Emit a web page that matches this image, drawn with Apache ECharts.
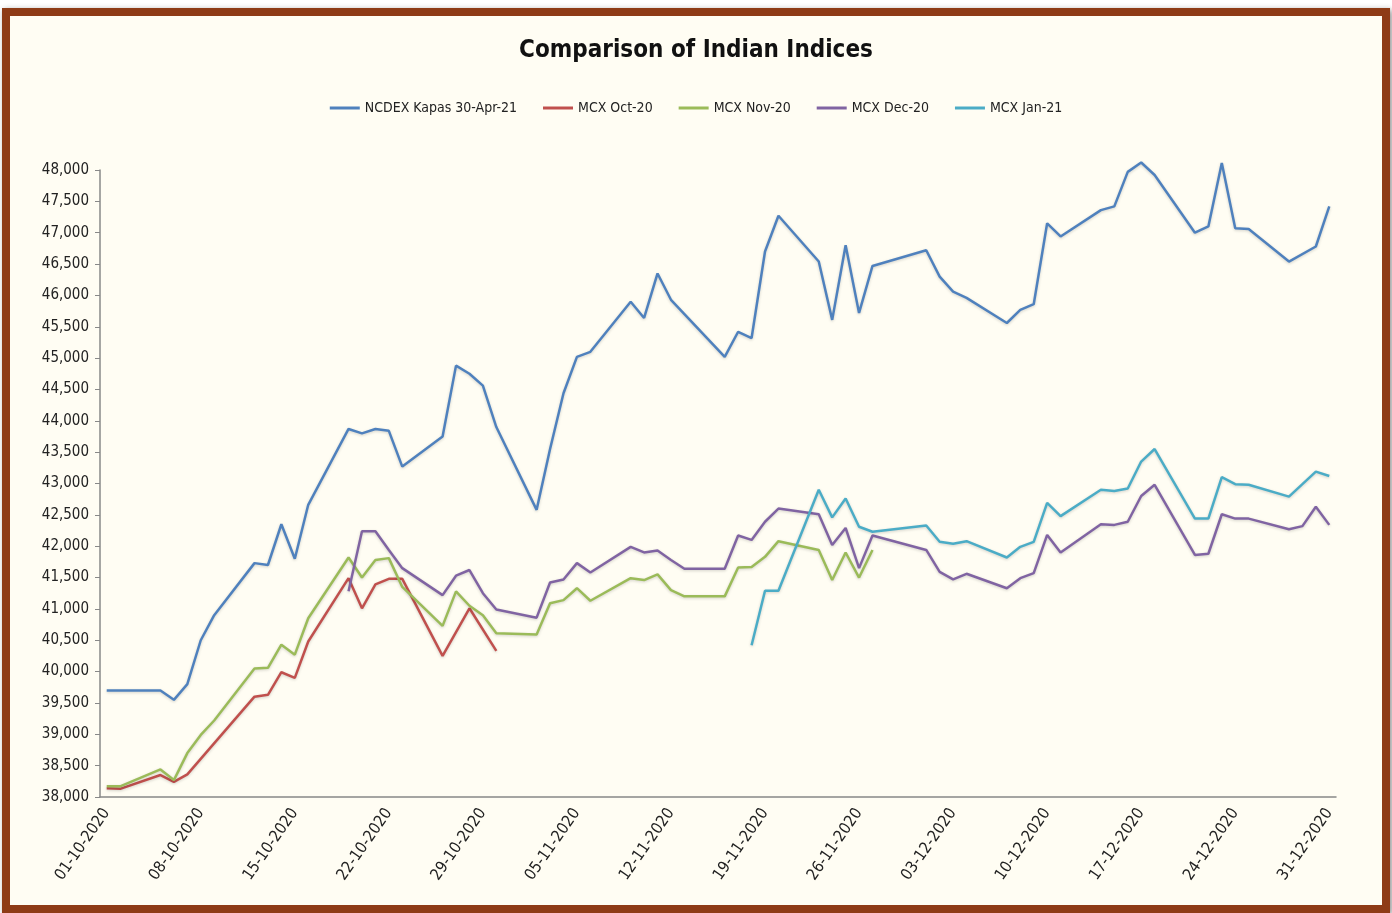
<!DOCTYPE html>
<html>
<head>
<meta charset="utf-8">
<script src="https://cdn.jsdelivr.net/npm/echarts@6/dist/echarts.min.js"></script>
<style>
  html, body { margin: 0; padding: 0; background: #ffffff; }
  .frame {
    position: absolute;
    left: 2px;
    top: 8px;
    width: 1372px;
    height: 889px;
    border: 8px solid #8e3b16;
    background: #fffdf3;
    box-shadow: 2px 2px 6px rgba(0, 0, 0, 0.45);
  }
  #chart { width: 100%; height: 100%; }
</style>
</head>
<body>
<div class="frame"><div id="chart"></div></div>
<script>
// x axis: every calendar day, label on every 7th
const days = [];
for (let d = new Date(2020, 9, 1); d <= new Date(2020, 11, 31); d.setDate(d.getDate() + 1)) {
  const dd = String(d.getDate()).padStart(2, "0");
  const mm = String(d.getMonth() + 1).padStart(2, "0");
  days.push(dd + "-" + mm + "-2020");
}

const seriesNames = ["NCDEX Kapas 30-Apr-21", "MCX Oct-20", "MCX Nov-20", "MCX Dec-20", "MCX Jan-21"];
const seriesColors = ["#4f81bd", "#c0504d", "#9bbb59", "#8064a2", "#4bacc6"];

// [dd-mm, value]
const ncdexKapas = [
  ["01-10", 39700], ["05-10", 39700], ["06-10", 39550], ["07-10", 39800], ["08-10", 40500], ["09-10", 40900],
  ["12-10", 41730], ["13-10", 41700], ["14-10", 42350], ["15-10", 41800], ["16-10", 42660],
  ["19-10", 43870], ["20-10", 43800], ["21-10", 43870], ["22-10", 43840], ["23-10", 43270],
  ["26-10", 43750], ["27-10", 44880], ["28-10", 44750], ["29-10", 44560], ["30-10", 43900],
  ["02-11", 42580], ["03-11", 43550], ["04-11", 44440], ["05-11", 45020], ["06-11", 45100],
  ["09-11", 45900], ["10-11", 45640], ["11-11", 46350], ["12-11", 45930],
  ["16-11", 45020], ["17-11", 45420], ["18-11", 45320], ["19-11", 46700], ["20-11", 47270],
  ["23-11", 46540], ["24-11", 45610], ["25-11", 46800], ["26-11", 45720], ["27-11", 46470],
  ["01-12", 46720], ["02-12", 46300], ["03-12", 46060], ["04-12", 45960],
  ["07-12", 45560], ["08-12", 45770], ["09-12", 45860], ["10-12", 47150], ["11-12", 46940],
  ["14-12", 47360], ["15-12", 47420], ["16-12", 47970], ["17-12", 48120], ["18-12", 47920],
  ["21-12", 47000], ["22-12", 47100], ["23-12", 48110], ["24-12", 47070], ["25-12", 47060],
  ["28-12", 46540], ["30-12", 46780], ["31-12", 47420]
];

const mcxOct20 = [
  ["01-10", 38140], ["02-10", 38130], ["05-10", 38350], ["06-10", 38240], ["07-10", 38360],
  ["12-10", 39600], ["13-10", 39630], ["14-10", 39990], ["15-10", 39900], ["16-10", 40480],
  ["19-10", 41490], ["20-10", 41010], ["21-10", 41390], ["22-10", 41480], ["23-10", 41480],
  ["26-10", 40250], ["28-10", 41010], ["30-10", 40330]
];

const mcxNov20 = [
  ["01-10", 38170], ["02-10", 38170], ["05-10", 38440], ["06-10", 38270], ["07-10", 38700], ["08-10", 38990], ["09-10", 39220],
  ["12-10", 40050], ["13-10", 40060], ["14-10", 40430], ["15-10", 40270], ["16-10", 40850],
  ["19-10", 41820], ["20-10", 41500], ["21-10", 41780], ["22-10", 41810], ["23-10", 41350],
  ["26-10", 40730], ["27-10", 41280], ["28-10", 41050], ["29-10", 40900], ["30-10", 40610],
  ["02-11", 40590], ["03-11", 41090], ["04-11", 41140], ["05-11", 41330], ["06-11", 41130],
  ["09-11", 41490], ["10-11", 41460], ["11-11", 41550], ["12-11", 41300], ["13-11", 41200],
  ["16-11", 41200], ["17-11", 41660], ["18-11", 41670], ["19-11", 41830], ["20-11", 42080],
  ["23-11", 41940], ["24-11", 41460], ["25-11", 41900], ["26-11", 41500], ["27-11", 41940]
];

const mcxDec20 = [
  ["19-10", 41280], ["20-10", 42240], ["21-10", 42240], ["22-10", 41940], ["23-10", 41650],
  ["26-10", 41220], ["27-10", 41530], ["28-10", 41620], ["29-10", 41250], ["30-10", 40990],
  ["02-11", 40860], ["03-11", 41420], ["04-11", 41470], ["05-11", 41730], ["06-11", 41580],
  ["09-11", 41990], ["10-11", 41900], ["11-11", 41930], ["12-11", 41780], ["13-11", 41640],
  ["16-11", 41640], ["17-11", 42170], ["18-11", 42100], ["19-11", 42390], ["20-11", 42600],
  ["23-11", 42510], ["24-11", 42020], ["25-11", 42290], ["26-11", 41650], ["27-11", 42170],
  ["01-12", 41940], ["02-12", 41590], ["03-12", 41470], ["04-12", 41560],
  ["07-12", 41330], ["08-12", 41490], ["09-12", 41570], ["10-12", 42180], ["11-12", 41900],
  ["14-12", 42350], ["15-12", 42340], ["16-12", 42390], ["17-12", 42800], ["18-12", 42980],
  ["21-12", 41860], ["22-12", 41880], ["23-12", 42510], ["24-12", 42440], ["25-12", 42440],
  ["28-12", 42270], ["29-12", 42320], ["30-12", 42630], ["31-12", 42340]
];

const mcxJan21 = [
  ["18-11", 40420], ["19-11", 41290], ["20-11", 41290],
  ["23-11", 42900], ["24-11", 42460], ["25-11", 42760], ["26-11", 42310], ["27-11", 42230],
  ["01-12", 42330], ["02-12", 42070], ["03-12", 42040], ["04-12", 42080],
  ["07-12", 41820], ["08-12", 41990], ["09-12", 42070], ["10-12", 42690], ["11-12", 42480],
  ["14-12", 42900], ["15-12", 42880], ["16-12", 42920], ["17-12", 43350], ["18-12", 43550],
  ["21-12", 42440], ["22-12", 42440], ["23-12", 43100], ["24-12", 42990], ["25-12", 42980],
  ["28-12", 42790], ["30-12", 43190], ["31-12", 43120]
];

const allSeries = [ncdexKapas, mcxOct20, mcxNov20, mcxDec20, mcxJan21];

const font = '"DejaVu Sans Condensed", "Liberation Sans Narrow", "Noto Sans", sans-serif';

const chart = echarts.init(document.getElementById("chart"));

const option = {
  animation: false,
  textStyle: { fontFamily: font },
  title: {
    text: "Comparison of Indian Indices",
    left: "center",
    top: 18,
    textStyle: { fontFamily: font, fontSize: 24, fontWeight: "bold", color: "#111" },
  },
  legend: {
    top: 80,
    left: "center",
    icon: "rect",
    itemWidth: 30,
    itemHeight: 3,
    itemGap: 26,
    textStyle: { fontFamily: font, fontSize: 14, color: "#222" },
    data: seriesNames,
  },
  grid: { left: 90, right: 46, top: 154, bottom: 108 },
  xAxis: {
    type: "category",
    data: days,
    boundaryGap: true,
    axisLine: { lineStyle: { color: "#888", width: 1.5 } },
    axisTick: { interval: 0, length: 5, lineStyle: { color: "#888" } },
    axisLabel: {
      interval: (i) => i % 7 === 0,
      rotate: 55,
      fontFamily: font,
      fontSize: 16,
      color: "#222",
      margin: 13,
    },
  },
  yAxis: {
    type: "value",
    min: 38000,
    max: 48000,
    interval: 500,
    axisLine: { show: true, lineStyle: { color: "#888", width: 1.5 } },
    axisTick: { show: true, length: 5, lineStyle: { color: "#888" } },
    splitLine: { show: false },
    axisLabel: {
      fontFamily: font,
      fontSize: 15,
      color: "#222",
      margin: 11,
      formatter: (v) => v.toLocaleString("en-US"),
    },
  },
  series: allSeries.map((arr, k) => ({
    name: seriesNames[k],
    type: "line",
    symbol: "none",
    clip: false,
    color: seriesColors[k],
    lineStyle: {
      width: 2.5,
      color: seriesColors[k],
      shadowColor: "rgba(0,0,0,0.18)",
      shadowBlur: 3,
      shadowOffsetY: 1,
    },
    data: arr.map((p) => [p[0] + "-2020", p[1]]),
  })),
};

chart.setOption(option);
</script>
</body>
</html>
